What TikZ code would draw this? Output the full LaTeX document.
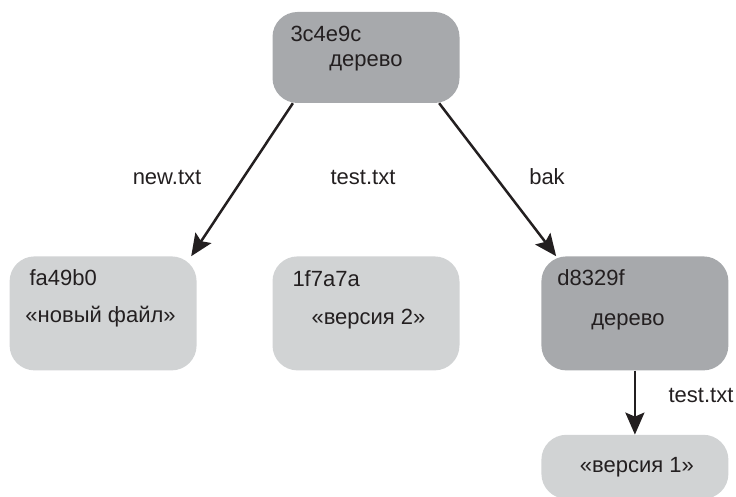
\documentclass[tikz,border=0pt]{standalone}
\usepackage{fontspec}
\setmainfont{Liberation Sans}
\usetikzlibrary{positioning, arrows.meta}
\definecolor{treegray}{HTML}{A7A9AC}
\definecolor{blobgray}{HTML}{D1D3D4}
\definecolor{ink}{HTML}{231F20}

\begin{document}
\begin{tikzpicture}[
    x=1pt, y=1pt,
    font=\fontsize{22}{26}\selectfont, text=ink,
    box/.style={rectangle, rounded corners=25pt, minimum width=187pt,
    minimum height=114pt, inner sep=0pt},
    treebox/.style={box, fill=treegray},
    blobbox/.style={box, fill=blobgray},
    txt/.style={inner sep=0pt, anchor=base},
    idtxt/.style={inner sep=0pt, anchor=base west},
    arrow/.style={-{Stealth[length=22pt, width=19pt, inset=4pt]}, line width=2.5pt, draw=ink}
]
\useasboundingbox (0,0) rectangle (736,-497);

\node[treebox, minimum height=91pt] (tree) at (366,-57.5) {};
\node[blobbox, below=153pt of tree] (vtwo) {};
\node[blobbox, left=75.5pt of vtwo] (newfile) {};
\node[treebox, right=81.5pt of vtwo] (subtree) {};
\node[blobbox, minimum height=64pt, below=64pt of subtree] (vone) {};

% texts inside the boxes
\node[idtxt] (treeid) at ([xshift=18pt, yshift=-30pt]tree.north west) {3c4e9c};
\node[txt] (treetxt) at ([yshift=-55pt]tree.north) {дерево};
\node[idtxt] (newid) at ([xshift=20pt, yshift=-29pt]newfile.north west) {fa49b0};
\node[txt] (newtxt) at ([xshift=-2.5pt, yshift=-66pt]newfile.north) {«новый файл»};
\node[idtxt] (vtwoid) at ([xshift=20pt, yshift=-30pt]vtwo.north west) {1f7a7a};
\node[txt] (vtwotxt) at ([xshift=2.5pt, yshift=-68pt]vtwo.north) {«версия 2»};
\node[idtxt] (subid) at ([xshift=16pt, yshift=-29pt]subtree.north west) {d8329f};
\node[txt] (subtxt) at ([xshift=-7pt, yshift=-69pt]subtree.north) {дерево};
\node[txt] (vonetxt) at ([xshift=2pt, yshift=-38pt]vone.north) {«версия 1»};

% entry names
\node[txt] (newname) at (167,-185) {new.txt};
\node[txt] (testname) at (363,-185) {test.txt};
\node[txt] (bakname) at (547,-185) {bak};
\node[txt] (subtestname) at (701,-402) {test.txt};

\draw[arrow] (tree.212) -- (newfile.33);
\draw[arrow] (tree.328) -- (subtree.144);
\draw[arrow] (subtree) -- (vone);

\end{tikzpicture}
\end{document}
